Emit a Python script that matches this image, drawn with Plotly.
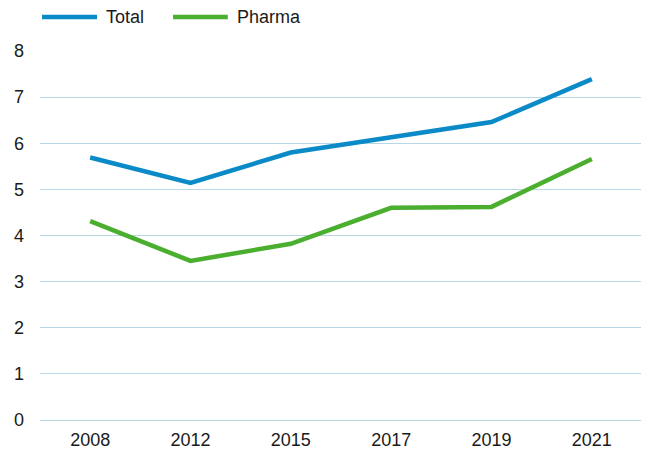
import plotly.graph_objects as go

years = ["2008", "2012", "2015", "2017", "2019", "2021"]
total = [5.69, 5.14, 5.80, 6.12, 6.46, 7.39]
pharma = [4.31, 3.45, 3.82, 4.60, 4.62, 5.66]
series_names = ["Total", "Pharma"]
colors = ["#0a8ac6", "#4aae2e"]
y_ticks = [0, 1, 2, 3, 4, 5, 6, 7, 8]

FONT = "Liberation Sans, Arial, sans-serif"
GRID = "#b9d6e4"

fig = go.Figure()
for name, vals, col in zip(series_names, [total, pharma], colors):
    fig.add_trace(go.Scatter(x=years, y=vals, mode="lines", name=name,
                             line=dict(color=col, width=4.5), showlegend=False))

# custom legend (longer line samples than plotly's default)
legend_layout = [(0.0033, 0.0947, 0.106), (0.221, 0.312, 0.324)]
for (x0, x1, xt), name, col in zip(legend_layout, series_names, colors):
    fig.add_shape(type="line", xref="paper", yref="paper", x0=x0, x1=x1,
                  y0=1.092, y1=1.092, line=dict(color=col, width=4.5))
    fig.add_annotation(xref="paper", yref="paper", x=xt, y=1.092, text=name,
                       showarrow=False, xanchor="left", yanchor="middle",
                       font=dict(family=FONT, size=18, color="#1a1a1a"))

fig.update_layout(
    width=641, height=444,
    margin=dict(l=32, r=7, t=43, b=32, autoexpand=False),
    paper_bgcolor="white", plot_bgcolor="white",
    font=dict(family=FONT, size=18, color="#1a1a1a"),
    xaxis=dict(type="category", range=[-0.5, 5.5], showgrid=False, zeroline=False,
               showline=False, ticks="", ticklabelstandoff=7, automargin=False),
    yaxis=dict(range=[0, 8], tickvals=y_ticks, showgrid=True, gridcolor=GRID,
               gridwidth=1.2, zeroline=True, zerolinecolor=GRID, zerolinewidth=1.2,
               showline=False, ticks="", ticklabelstandoff=15, automargin=False),
)

fig.write_html("out.html")
